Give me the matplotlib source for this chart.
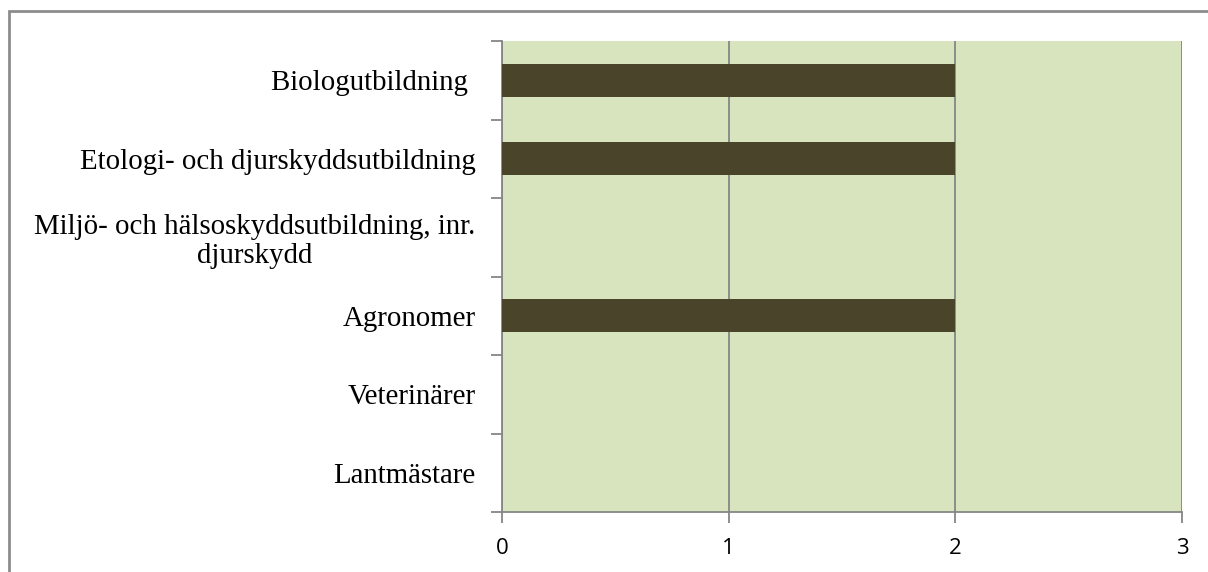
import matplotlib.pyplot as plt
from matplotlib.patches import Rectangle

# kategorier nerifrån och upp (som i Excel)
kategorier = ['Lantmästare', 'Veterinärer', 'Agronomer',
              'Miljö- och hälsoskyddsutbildning, inr.\ndjurskydd',
              'Etologi- och djurskyddsutbildning', 'Biologutbildning ']
antal = [0, 0, 2, 0, 2, 2]
xticks = [0, 1, 2, 3]

W, H = 1208, 572
fig = plt.figure(figsize=(W / 100, H / 100), dpi=100)
ax = fig.add_axes([502 / W, 1 - 512 / H, (1182 - 502) / W, (512 - 41) / H])

# ram runt diagrammet
fig.patches.append(Rectangle((9 / W, -0.1), 1.2, 1 - 11 / H + 0.1, transform=fig.transFigure,
                             fill=False, edgecolor='#8c8c8c', linewidth=2, zorder=0))

ax.set_facecolor('#d7e4bd')
ypos = range(len(kategorier))
ax.barh(ypos, antal, height=0.42, color='#4a452a', zorder=3)

ax.set_xlim(0, 3)
ax.set_ylim(-0.5, len(kategorier) - 0.5)
ax.set_xticks(xticks)
ax.set_xticklabels([str(t) for t in xticks], fontfamily='Open Sans', fontsize=16)
ax.grid(axis='x', color='#868686', linewidth=1.3, zorder=1)

ax.set_yticks([y + 0.5 for y in range(-1, len(kategorier))])
ax.set_yticklabels([])
ax.set_yticks(list(ypos), minor=True)
ax.set_yticklabels(kategorier, minor=True, fontfamily='Liberation Serif', fontsize=20.8,
                   multialignment='center', linespacing=1.12)
ax.tick_params(axis='y', which='minor', length=0, pad=19)
ax.tick_params(axis='y', which='major', length=8, color='#868686', width=1.3)
ax.tick_params(axis='x', length=8, color='#868686', width=1.3, pad=11)

for s in ['top', 'right']:
    ax.spines[s].set_visible(False)
for s in ['left', 'bottom']:
    ax.spines[s].set_color('#868686')
    ax.spines[s].set_linewidth(1.3)

plt.savefig('out.png', dpi=100)
